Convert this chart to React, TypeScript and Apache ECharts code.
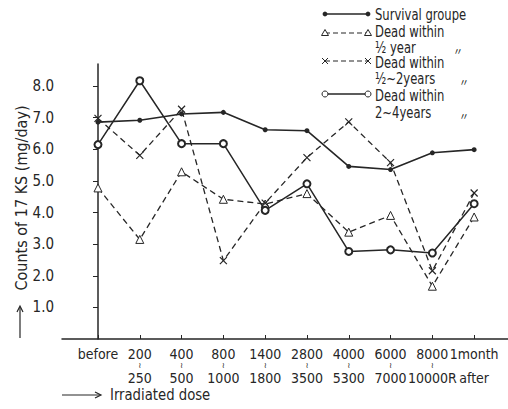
import React, { useEffect, useRef } from 'react';
import * as echarts from 'echarts';

// Tick label lines (dose groups)
const labelTop = ['before', '200', '400', '800', '1400', '2800', '4000', '6000', '8000', '1month'];
const labelMid = ['', '≀', '≀', '≀', '≀', '≀', '≀', '≀', '≀', ''];
const labelBottom = ['', '250', '500', '1000', '1800', '3500', '5300', '7000', '10000R', 'after'];

// Series values (17 KS, mg/day)
const survival = [6.86, 6.92, 7.12, 7.17, 6.62, 6.59, 5.46, 5.36, 5.89, 5.99];
const deadHalfYear = [4.78, 3.15, 5.29, 4.42, 4.27, 4.6, 3.38, 3.91, 1.67, 3.86];
const deadHalfTo2Years = [6.98, 5.81, 7.27, 2.48, 4.3, 5.74, 6.87, 5.58, 2.16, 4.62];
const dead2To4Years = [6.15, 8.17, 6.18, 6.18, 4.07, 4.91, 2.77, 2.82, 2.72, 4.28];

const yTickValues = [1, 2, 3, 4, 5, 6, 7, 8];

export default function App() {
  const ref = useRef<HTMLDivElement>(null);
  useEffect(() => {
    if (!ref.current) return;
    const chart = echarts.init(ref.current, null, { renderer: 'svg' });
    const font = "'Liberation Sans Narrow','DejaVu Sans Condensed','Roboto Condensed','Noto Sans',sans-serif";
    const ink = '#262626';
    const xIdx = labelTop.map((_, i) => i);
    const toData = (arr: number[]) => arr.map((v, i) => [i, v]);
    const crossPath = 'path://M0,0L10,10M10,0L0,10';

    const lx0 = 325;
    const lx1 = 368;
    const legendLine = (y: number, dashed: boolean) => ({
      type: 'line',
      shape: { x1: lx0, y1: y, x2: lx1, y2: y },
      style: { stroke: ink, lineWidth: dashed ? 1.2 : 1.6, lineDash: dashed ? [5, 3] : null },
    });
    const dot = (x: number, y: number) => ({ type: 'circle', shape: { cx: x, cy: y, r: 2.4 }, style: { fill: ink } });
    const ring = (x: number, y: number) => ({ type: 'circle', shape: { cx: x, cy: y, r: 3 }, style: { fill: '#fff', stroke: ink, lineWidth: 1 } });
    const tri = (x: number, y: number) => ({
      type: 'polygon',
      shape: { points: [[x, y - 3.5], [x - 3.5, y + 2.5], [x + 3.5, y + 2.5]] },
      style: { fill: '#fff', stroke: ink, lineWidth: 1 },
    });
    const cross = (x: number, y: number) => ({
      type: 'group',
      children: [
        { type: 'line', shape: { x1: x - 3, y1: y - 3, x2: x + 3, y2: y + 3 }, style: { stroke: ink, lineWidth: 1 } },
        { type: 'line', shape: { x1: x + 3, y1: y - 3, x2: x - 3, y2: y + 3 }, style: { stroke: ink, lineWidth: 1 } },
      ],
    });
    const txt = (x: number, y: number, text: string, size = 15, sx = 0.86, family = font) => ({
      type: 'text',
      x,
      y,
      scaleX: sx,
      style: { text, fontSize: size, lineHeight: size, fontFamily: family, fill: ink, align: 'left', verticalAlign: 'middle' },
    });
    const ditto = "'Noto Sans CJK JP','Noto Sans CJK SC',sans-serif";

    const baseX = {
      type: 'value',
      min: -0.861,
      max: 9.81,
      splitLine: { show: false },
    };

    chart.setOption({
      animation: false,
      backgroundColor: '#ffffff',
      grid: { left: 62, right: 0, top: 64, bottom: 70 },
      xAxis: [
        {
          ...baseX,
          position: 'bottom',
          axisLine: { show: true, lineStyle: { color: ink, width: 1.5 } },
          axisTick: { show: true, inside: true, length: 4, customValues: xIdx, lineStyle: { color: ink } },
          axisLabel: {
            customValues: xIdx,
            showMinLabel: true,
            showMaxLabel: true,
            margin: 8,
            fontSize: 14,
            fontFamily: font,
            color: ink,
            formatter: (v: number) => {
              const i = Math.round(v);
              return i >= 0 && i < labelTop.length ? labelTop[i] : '';
            },
          },
        },
        {
          ...baseX,
          position: 'bottom',
          axisLine: { show: false },
          axisTick: { show: false },
          axisLabel: {
            customValues: xIdx,
            showMinLabel: true,
            showMaxLabel: true,
            margin: 20,
            formatter: (v: number) => {
              const i = Math.round(v);
              if (i < 0 || i >= labelTop.length || !labelBottom[i]) return '';
              return `{t|${labelMid[i] || ' '}}\n{n|${labelBottom[i]}}`;
            },
            rich: {
              n: { fontSize: 14, fontFamily: font, color: ink, lineHeight: 13 },
              t: { fontSize: 8, fontFamily: 'DejaVu Sans', color: ink, lineHeight: 12 },
            },
          },
        },
      ],
      yAxis: {
        type: 'value',
        min: 0,
        max: 8.7,
        splitLine: { show: false },
        axisLine: { show: true, lineStyle: { color: ink, width: 1.5 } },
        axisTick: { show: true, length: 5, customValues: yTickValues, lineStyle: { color: ink } },
        axisLabel: {
          customValues: yTickValues,
          margin: 8,
          fontSize: 15,
          fontFamily: font,
          color: ink,
          formatter: (v: number) => v.toFixed(1),
        },
      },
      series: [
        {
          name: 'Survival groupe',
          type: 'line',
          data: toData(survival),
          symbol: 'circle',
          symbolSize: 5,
          itemStyle: { color: ink },
          lineStyle: { color: ink, width: 1.6 },
          z: 4,
        },
        {
          name: 'Dead within 1/2 year',
          type: 'line',
          data: toData(deadHalfYear),
          symbol: 'triangle',
          symbolSize: 8,
          itemStyle: { color: '#fff', borderColor: ink, borderWidth: 1 },
          lineStyle: { color: ink, width: 1.3, type: [6, 4] },
          z: 3,
        },
        {
          name: 'Dead within 1/2~2years',
          type: 'line',
          data: toData(deadHalfTo2Years),
          symbol: crossPath,
          symbolSize: 7,
          itemStyle: { color: 'none', borderColor: ink, borderWidth: 1.2 },
          lineStyle: { color: ink, width: 1.3, type: [6, 4] },
          z: 3,
        },
        {
          name: 'Dead within 2~4years',
          type: 'line',
          data: toData(dead2To4Years),
          symbol: 'emptyCircle',
          symbolSize: 7,
          itemStyle: { color: ink, borderWidth: 1 },
          lineStyle: { color: ink, width: 1.5 },
          z: 4,
        },
      ],
      graphic: [
        // legend
        legendLine(14, false), dot(lx0, 14), dot(lx1, 14),
        txt(375, 15, 'Survival groupe'),
        legendLine(33, true), tri(lx0, 33), tri(lx1, 33),
        txt(375, 32, 'Dead within'),
        txt(375, 48, '½ year'),
        txt(453, 50, '〃', 10, 1, ditto),
        legendLine(61, true), cross(lx0, 61), cross(lx1, 61),
        txt(375, 63, 'Dead within'),
        txt(375, 79, '½~2years'),
        txt(459, 81, '〃', 10, 1, ditto),
        legendLine(94, false), ring(lx0, 94), ring(lx1, 94),
        txt(375, 96, 'Dead within'),
        txt(375, 113, '2~4years'),
        txt(459, 115, '〃', 10, 1, ditto),
        // y axis title with arrow
        {
          type: 'text',
          x: 21,
          y: 198,
          rotation: Math.PI / 2,
          style: {
            text: 'Counts of 17 KS (mg/day)',
            fontSize: 16,
            fontFamily: font,
            fill: ink,
            align: 'center',
            verticalAlign: 'middle',
          },
        },
        { type: 'line', shape: { x1: 20, y1: 338, x2: 20, y2: 307 }, style: { stroke: ink, lineWidth: 1.2 } },
        { type: 'polyline', shape: { points: [[17, 312], [20, 306], [23, 312]] }, style: { stroke: ink, lineWidth: 1.2, fill: null } },
        // x axis title with arrow
        { type: 'line', shape: { x1: 62, y1: 395, x2: 100, y2: 395 }, style: { stroke: ink, lineWidth: 1.2 } },
        { type: 'polyline', shape: { points: [[95, 392], [101, 395], [95, 398]] }, style: { stroke: ink, lineWidth: 1.2, fill: null } },
        txt(110, 395, 'Irradiated dose', 16, 0.92),
      ],
    });
    return () => chart.dispose();
  }, []);
  return <div ref={ref} style={{ position: 'absolute', left: 0, top: 0, width: 508, height: 409 }} />;
}
